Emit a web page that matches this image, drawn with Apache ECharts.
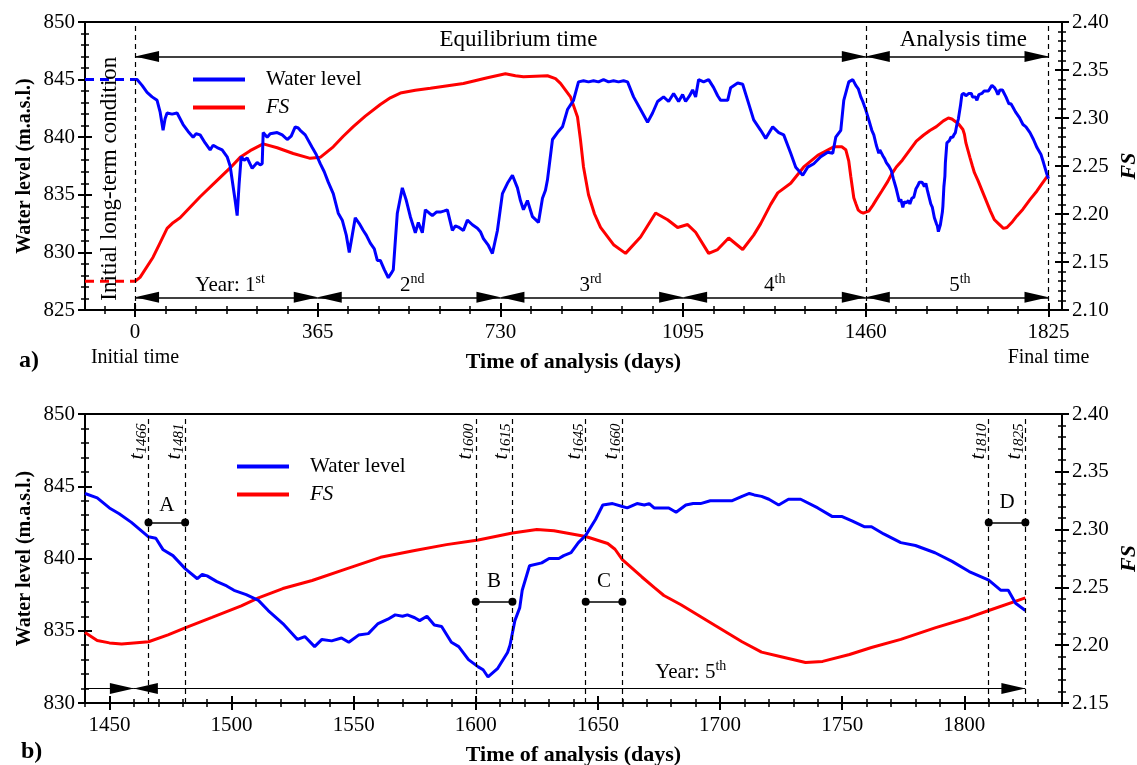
<!DOCTYPE html>
<html><head><meta charset="utf-8">
<script src="https://cdn.jsdelivr.net/npm/echarts@6/dist/echarts.min.js"></script>
<style>html,body{margin:0;padding:0;background:#fff}#c{width:1137px;height:765px}</style>
</head><body><div id="c"></div>
<script>
// ---------------- DATA ----------------
// [day, water level (m.a.s.l.)] years 1-4
const waterLevelYears1to4 = [
[0,845.0],[4,845.0],[14,844.5],[24,843.9],[34,843.5],[44,843.2],[50,842.2],[56,840.6],[60,841.6],[64,842.1],[74,842.0],[84,842.1],[90,841.6],[96,841.1],[106,840.5],[116,840.0],[122,840.3],[130,840.2],[140,839.5],[150,838.9],[156,839.3],[164,839.1],[174,838.9],[184,838.3],[190,837.5],[196,835.7],[200,834.5],[204,833.2],[208,836.0],[212,838.3],[218,838.0],[224,838.2],[234,837.3],[244,837.8],[250,837.6],[254,837.7],[256,840.4],[264,840.0],[270,840.3],[284,840.4],[294,840.2],[304,839.8],[312,840.1],[320,840.9],[326,840.8],[330,840.6],[340,840.2],[354,839.1],[362,838.5],[370,837.7],[378,837.0],[386,836.1],[396,835.1],[406,833.4],[414,832.8],[422,831.5],[428,830.0],[434,831.5],[440,833.0],[448,832.5],[456,831.9],[462,831.5],[470,830.8],[478,830.3],[484,829.3],[490,829.3],[498,828.5],[506,827.8],[512,828.2],[516,828.5],[520,831.0],[524,833.4],[534,835.6],[542,834.5],[550,833.1],[560,831.7],[566,832.6],[574,831.7],[580,833.7],[588,833.4],[594,833.2],[602,833.5],[610,833.5],[618,833.6],[624,833.7],[634,831.9],[640,832.3],[646,832.2],[656,831.9],[664,832.8],[674,832.4],[684,832.1],[690,831.8],[696,831.2],[706,830.6],[714,829.9],[724,831.9],[734,835.1],[744,836.0],[754,836.7],[764,835.6],[770,834.5],[776,833.7],[784,834.5],[794,833.1],[806,832.6],[814,834.7],[820,835.4],[824,836.3],[834,839.8],[844,840.4],[854,840.9],[864,842.4],[876,843.2],[886,844.8],[896,844.9],[906,844.8],[916,844.9],[926,844.8],[936,845.0],[946,844.8],[956,844.9],[966,844.8],[976,844.9],[984,844.8],[996,843.5],[1010,842.4],[1024,841.3],[1034,842.1],[1044,843.1],[1056,843.5],[1066,843.1],[1076,843.8],[1086,843.1],[1094,843.7],[1100,843.1],[1108,843.6],[1114,844.1],[1120,843.5],[1126,845.0],[1136,844.8],[1146,845.0],[1156,844.3],[1164,843.6],[1170,843.2],[1184,843.2],[1190,844.3],[1204,844.7],[1214,844.6],[1224,843.2],[1236,841.5],[1250,840.6],[1260,839.9],[1274,840.9],[1286,840.4],[1296,840.2],[1310,838.6],[1320,837.4],[1334,836.7],[1344,837.4],[1356,837.7],[1370,838.3],[1384,838.7],[1394,838.6],[1400,840.0],[1410,840.6],[1416,843.2],[1426,844.8],[1434,845.0]
];
// [day, water level] year 5 (from day 1440)
const waterLevelYear5 = [
[1440,844.5],[1445,844.2],[1450,843.5],[1454,843.1],[1459,842.5],[1466,841.5],[1469,841.4],[1472,840.6],[1476,840.2],[1481,839.3],[1486,838.6],[1488,838.9],[1490,838.8],[1494,838.4],[1498,838.1],[1501,837.8],[1506,837.5],[1511,837.1],[1515,836.4],[1521,835.5],[1527,834.4],[1530,834.6],[1534,833.9],[1537,834.4],[1541,834.3],[1545,834.5],[1548,834.2],[1552,834.7],[1556,834.8],[1560,835.5],[1564,835.8],[1567,836.1],[1570,836.0],[1572,836.1],[1575,835.9],[1577,835.7],[1580,836.0],[1583,835.4],[1586,835.3],[1590,834.2],[1593,833.9],[1597,833.0],[1601,832.5],[1603,832.3],[1605,831.8],[1609,832.4],[1613,833.5],[1614,834.0],[1616,835.7],[1618,836.6],[1619,837.8],[1622,839.5],[1627,839.7],[1630,840.0],[1634,840.0],[1636,840.2],[1639,840.4],[1642,841.1],[1645,841.6],[1649,842.7],[1652,843.7],[1656,843.8],[1660,843.6],[1662,843.5],[1666,843.8],[1669,843.7],[1671,843.8],[1673,843.5],[1679,843.5],[1682,843.2],[1686,843.7],[1689,843.8],[1692,843.8],[1696,844.0],[1700,844.0],[1705,844.0],[1709,844.3],[1712,844.5],[1714,844.4],[1717,844.3],[1720,844.1],[1724,843.7],[1728,844.1],[1733,844.1],[1740,843.5],[1746,842.9],[1750,842.9],[1754,842.6],[1759,842.2],[1762,842.2],[1767,841.7],[1774,841.1],[1780,840.9],[1788,840.4],[1795,839.8],[1802,839.1],[1810,838.5],[1815,837.8],[1818,837.8],[1821,836.9],[1825,836.4]
];
// [day, FS] years 1-4
const fsYears1to4 = [
[0,2.130],[10,2.134],[36,2.155],[50,2.170],[64,2.185],[76,2.191],[90,2.196],[110,2.207],[130,2.218],[164,2.235],[190,2.248],[210,2.259],[230,2.266],[256,2.273],[284,2.269],[316,2.263],[350,2.258],[370,2.259],[396,2.270],[416,2.281],[436,2.291],[460,2.302],[490,2.314],[510,2.321],[530,2.326],[560,2.329],[590,2.331],[656,2.336],[704,2.342],[740,2.346],[760,2.344],[776,2.343],[824,2.344],[840,2.341],[850,2.336],[870,2.322],[884,2.301],[890,2.277],[896,2.249],[906,2.220],[918,2.200],[930,2.186],[956,2.168],[980,2.159],[1010,2.176],[1040,2.201],[1064,2.194],[1084,2.186],[1104,2.189],[1120,2.181],[1146,2.159],[1164,2.163],[1186,2.175],[1214,2.163],[1236,2.178],[1250,2.190],[1270,2.210],[1284,2.222],[1310,2.232],[1336,2.249],[1364,2.261],[1396,2.270],[1412,2.270],[1420,2.267],[1426,2.255],[1430,2.239],[1436,2.217]
];
// [day, FS] year 5
const fsYear5 = [
[1440,2.211],[1445,2.204],[1450,2.202],[1455,2.201],[1460,2.202],[1466,2.203],[1474,2.209],[1481,2.215],[1492,2.224],[1504,2.234],[1511,2.241],[1521,2.249],[1533,2.256],[1547,2.266],[1561,2.276],[1575,2.282],[1588,2.287],[1601,2.291],[1615,2.297],[1625,2.300],[1632,2.299],[1645,2.294],[1654,2.288],[1657,2.283],[1660,2.274],[1668,2.259],[1673,2.250],[1677,2.243],[1684,2.235],[1698,2.217],[1709,2.203],[1717,2.194],[1725,2.190],[1735,2.185],[1742,2.186],[1753,2.192],[1762,2.198],[1774,2.205],[1788,2.215],[1802,2.224],[1810,2.230],[1825,2.241]
];
// initial long-term condition (days -100..0)
const initialDays = [-100, 0];
const initialWaterLevel = 845.0;
const initialFS = 2.13;

// tick labels / annotations
const topXTicks = [0, 365, 730, 1095, 1460, 1825];
const bottomXTicks = [1450, 1500, 1550, 1600, 1650, 1700, 1750, 1800];
const yearBounds = [0, 365, 730, 1095, 1460, 1825];
const yearLabels = ['1', '2', '3', '4', '5'];
const yearSuffix = ['st', 'nd', 'rd', 'th', 'th'];
const yearLabelDays = [190, 554, 910, 1278, 1648];
const periodMarks = [1466, 1481, 1600, 1615, 1645, 1660, 1810, 1825];
const intervalNames = ['A', 'B', 'C', 'D'];
const intervalStart = [1466, 1600, 1645, 1810];
const intervalEnd = [1481, 1615, 1660, 1825];

// ---------------- CHART ----------------
const FONT = '"Liberation Serif", "Times New Roman", serif';
const BLUE = '#0000ff', RED = '#ff0000';
const pair = (a, b) => [a, b];

const topMinor = []; for (let k = -1; k <= 30; k++) topMinor.push(k * 365 / 6);
const bottomMinor = []; for (let v = 1440; v <= 1840; v += 10) bottomMinor.push(v);

const lineBlack = { color: '#000', width: 2 };
const labelStyle = { color: '#000', fontFamily: FONT, fontSize: 21 };

function xAxes(grid, min, max, major, minor, fmt, labelRich) {
  const base = { gridIndex: grid, type: 'value', min, max, splitLine: { show: false } };
  return [
    Object.assign({}, base, {
      position: 'bottom', name: 'Time of analysis (days)', nameLocation: 'middle', nameGap: 41,
      nameMoveOverlap: false,
      nameTextStyle: { fontFamily: FONT, fontSize: 22, fontWeight: 'bold', color: '#000' },
      axisLine: { onZero: false, lineStyle: lineBlack },
      axisTick: { customValues: major, length: 7, lineStyle: lineBlack },
      axisLabel: Object.assign({ customValues: major, margin: 10, formatter: fmt, rich: labelRich, lineHeight: 25, hideOverlap: false }, labelStyle)
    }),
    Object.assign({}, base, { position: 'bottom', axisLine: { show: false, onZero: false },
      axisTick: { customValues: major, inside: true, length: 7, lineStyle: lineBlack }, axisLabel: { show: false } }),
    Object.assign({}, base, { position: 'bottom', axisLine: { show: false, onZero: false },
      axisTick: { customValues: minor, length: 4, lineStyle: { color: '#000', width: 1.5 } }, axisLabel: { show: false } }),
    Object.assign({}, base, { position: 'bottom', axisLine: { show: false, onZero: false },
      axisTick: { customValues: minor, inside: true, length: 4, lineStyle: { color: '#000', width: 1.5 } }, axisLabel: { show: false } }),
    Object.assign({}, base, { position: 'top', axisLine: { onZero: false, lineStyle: lineBlack },
      axisTick: { show: false }, axisLabel: { show: false } })
  ];
}
function yAxes(grid, min, max, interval, side, name, nameGap, fmt, nameStyle) {
  const base = { gridIndex: grid, type: 'value', position: side, min, max, interval,
    splitLine: { show: false }, minorSplitLine: { show: false } };
  const minor = { show: true, splitNumber: 5, length: 4, lineStyle: { color: '#000', width: 1.5 } };
  return [
    Object.assign({}, base, {
      name, nameLocation: 'middle', nameGap, nameRotate: 90, nameMoveOverlap: false,
      nameTextStyle: Object.assign({ fontFamily: FONT, color: '#000' }, nameStyle),
      axisLine: { onZero: false, lineStyle: lineBlack },
      axisTick: { length: 7, lineStyle: lineBlack }, minorTick: minor,
      axisLabel: Object.assign({ margin: 10, formatter: fmt }, labelStyle)
    }),
    Object.assign({}, base, { axisLine: { show: false, onZero: false },
      axisTick: { inside: true, length: 7, lineStyle: lineBlack }, minorTick: minor, axisLabel: { show: false } })
  ];
}

const wlName = 'Water level (m.a.s.l.)';
const wlNameStyle = { fontSize: 20, fontWeight: 'bold' };
const fsNameStyle = { fontSize: 22, fontWeight: 'bold', fontStyle: 'italic' };
const fmtInt = v => String(Math.round(v));
const fmt2 = v => v.toFixed(2);

const topLabelRich = {
  v: { fontFamily: FONT, fontSize: 21, color: '#000', lineHeight: 25 },
  s: { fontFamily: FONT, fontSize: 20, color: '#000', lineHeight: 25 }
};
const topXFmt = v => {
  const r = Math.round(v);
  if (r === 0) return '{v|0}\n{s|Initial time}';
  if (r === 1825) return '{v|1825}\n{s|Final time}';
  return '{v|' + r + '}';
};

const richText = {
  n: { fontFamily: FONT, fontSize: 21, color: '#000', lineHeight: 26, verticalAlign: 'middle' },
  long: { fontFamily: FONT, fontSize: 23, color: '#000', lineHeight: 26, verticalAlign: 'middle' },
  sup: { fontFamily: FONT, fontSize: 14, color: '#000', lineHeight: 14, verticalAlign: 'top' },
  t: { fontFamily: FONT, fontSize: 22, fontStyle: 'italic', color: '#000', lineHeight: 24, verticalAlign: 'middle' },
  sub: { fontFamily: FONT, fontSize: 15, fontStyle: 'italic', color: '#000', lineHeight: 15, verticalAlign: 'bottom' },
  big: { fontFamily: FONT, fontSize: 23, color: '#000' }
};
const mpLabel = { show: true, position: 'inside', color: '#000', fontFamily: FONT, fontSize: 21, rich: richText };
const txt = (coord, text, extra) => ({ coord, value: 0, label: Object.assign({ formatter: text }, extra || {}) });

const dashed = { color: '#000', type: [5, 4], width: 1.2 };
const solidThin = { color: '#000', type: 'solid', width: 1.5 };
const arrowEnd = (coord, withArrow) => withArrow
  ? { coord, symbol: 'triangle', symbolSize: [11, 24], symbolOffset: [0, '50%'] }
  : { coord, symbol: 'none' };

// top chart mark lines
const topMarkLines = [0, 1460, 1825].map(d => ({ xAxis: d, lineStyle: dashed, symbol: 'none' }));
[[0, 1460], [1460, 1825]].forEach(([a, b]) => topMarkLines.push([
  Object.assign(arrowEnd([a, 847], true), { lineStyle: solidThin }), arrowEnd([b, 847], true)]));
for (let i = 0; i < 5; i++) topMarkLines.push([
  Object.assign(arrowEnd([yearBounds[i], 826.1], true), { lineStyle: solidThin }), arrowEnd([yearBounds[i + 1], 826.1], true)]);

const topMarkPoints = [
  txt([-50, 836.4], '{long|Initial long-term condition}', { rotate: 90 }),
  txt([766, 848.4], '{big|Equilibrium time}'),
  txt([1655, 848.4], '{big|Analysis time}')
];
for (let i = 0; i < 5; i++) topMarkPoints.push(txt([yearLabelDays[i], 827.1],
  (i === 0 ? '{n|Year: ' + yearLabels[i] + '}' : '{n|' + yearLabels[i] + '}') + '{sup|' + yearSuffix[i] + '}'));

// bottom chart mark lines
const botMarkLines = periodMarks.map(d => ({ xAxis: d, lineStyle: dashed, symbol: 'none' }));
const intervalY = [842.5, 837.0, 837.0, 842.5];
for (let i = 0; i < 4; i++) botMarkLines.push([
  { coord: [intervalStart[i], intervalY[i]], symbol: 'circle', symbolSize: 8, lineStyle: solidThin },
  { coord: [intervalEnd[i], intervalY[i]], symbol: 'circle', symbolSize: 8 }]);
botMarkLines.push([Object.assign(arrowEnd([1440, 831], false), { lineStyle: { color: '#000', type: 'solid', width: 1.2 } }), arrowEnd([1460, 831], true)]);
botMarkLines.push([Object.assign(arrowEnd([1460, 831], true), { lineStyle: { color: '#000', type: 'solid', width: 1.2 } }), arrowEnd([1825, 831], true)]);

const botMarkPoints = periodMarks.map(d => txt([d, 848.1], '{t|t}{sub|' + d + '}', { rotate: 90, offset: [0, -11] }));
const labelPos = [[1473.5, 843.7], [1607.5, 838.4], [1652.5, 838.4], [1817.5, 843.9]];
for (let i = 0; i < 4; i++) botMarkPoints.push(txt(labelPos[i], '{n|' + intervalNames[i] + '}'));
botMarkPoints.push(txt([1688, 832.1], '{n|Year: 5}{sup|th}'));

const markPointBase = { symbol: 'rect', symbolSize: 0, silent: true, label: mpLabel, itemStyle: { color: 'transparent' } };
const lineSeries = (name, xi, yi, data, color, dash, z) => ({
  type: 'line', name, xAxisIndex: xi, yAxisIndex: yi, data, showSymbol: false, symbol: 'none',
  lineStyle: { color, width: 3, type: dash ? [9, 6] : 'solid' }, itemStyle: { color }, z: z || 3,
  emphasis: { disabled: true }, silent: true
});

const topWL = waterLevelYears1to4.concat(waterLevelYear5);
const topFS = fsYears1to4.concat(fsYear5);

const s1 = lineSeries('Water level', 0, 0, topWL, BLUE);
s1.markLine = { silent: true, symbol: 'none', label: { show: false }, animation: false, data: topMarkLines };
s1.markPoint = Object.assign({ data: topMarkPoints }, markPointBase);
const s5 = lineSeries('Water level', 5, 4, waterLevelYear5, BLUE);
s5.markLine = { silent: true, symbol: 'none', label: { show: false }, animation: false, data: botMarkLines };
s5.markPoint = Object.assign({ data: botMarkPoints }, markPointBase);

const legendBase = {
  data: ['Water level', 'FS'], orient: 'vertical', itemWidth: 52, itemHeight: 4, itemGap: 7, icon: 'rect',
  selectedMode: false,
  formatter: n => n === 'FS' ? '{i|FS}' : n,
  textStyle: { fontFamily: FONT, fontSize: 21, color: '#000', padding: [0, 0, 0, 16],
    rich: { i: { fontFamily: FONT, fontSize: 21, fontStyle: 'italic', color: '#000' } } }
};

const option = {
  animation: false,
  backgroundColor: '#fff',
  title: [
    { text: 'a)', left: 14, top: 344, textStyle: { fontFamily: FONT, fontSize: 24, fontWeight: 'bold', color: '#000' } },
    { text: 'b)', left: 16, top: 735, textStyle: { fontFamily: FONT, fontSize: 24, fontWeight: 'bold', color: '#000' } }
  ],
  legend: [
    Object.assign({}, legendBase, { left: 188, top: 64 }),
    Object.assign({}, legendBase, { left: 232, top: 451 })
  ],
  grid: [
    { left: 85, width: 977, top: 22, height: 288, outerBoundsMode: 'none', containLabel: false },
    { left: 85, width: 977, top: 414, height: 289, outerBoundsMode: 'none', containLabel: false }
  ],
  xAxis: xAxes(0, -100, 1852, topXTicks, topMinor, topXFmt, topLabelRich)
    .concat(xAxes(1, 1440, 1840, bottomXTicks, bottomMinor, fmtInt, undefined)),
  yAxis: yAxes(0, 825, 850, 5, 'left', wlName, 50, fmtInt, wlNameStyle)
    .concat(yAxes(0, 2.10, 2.40, 0.05, 'right', 'FS', 56, fmt2, fsNameStyle))
    .concat(yAxes(1, 830, 850, 5, 'left', wlName, 50, fmtInt, wlNameStyle))
    .concat(yAxes(1, 2.15, 2.40, 0.05, 'right', 'FS', 56, fmt2, fsNameStyle)),
  series: [
    s1,
    lineSeries('Water level', 0, 0, initialDays.map(d => pair(d, initialWaterLevel)), BLUE, true),
    lineSeries('FS', 0, 2, topFS, RED, false, 2),
    lineSeries('FS', 0, 2, initialDays.map(d => pair(d, initialFS)), RED, true, 2),
    s5,
    lineSeries('FS', 5, 6, fsYear5, RED, false, 2)
  ]
};
const chart = echarts.init(document.getElementById('c'), null, { renderer: 'canvas' });
chart.setOption(option);
</script></body></html>
